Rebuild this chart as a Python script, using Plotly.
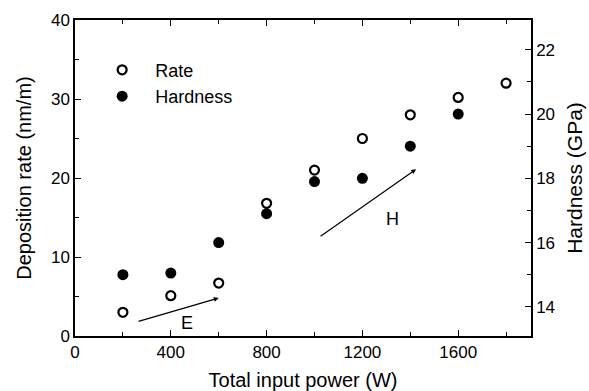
import plotly.graph_objects as go

# Total input power (W)
power = [200, 400, 600, 800, 1000, 1200, 1400, 1600, 1800]
# Deposition rate (nm/m)
rate = [3.0, 5.1, 6.7, 16.8, 21.0, 25.0, 28.0, 30.2, 32.0]
# Hardness (GPa)
hard_power = [200, 400, 600, 800, 1000, 1200, 1400, 1600]
hardness = [15.0, 15.05, 16.0, 16.9, 17.9, 18.0, 19.0, 20.0]

x_ticks = [0, 400, 800, 1200, 1600]
y_ticks = [0, 10, 20, 30, 40]
h_ticks = [14, 16, 18, 20, 22]

FONT = "Liberation Sans, Arial, Helvetica, sans-serif"

fig = go.Figure()
fig.add_trace(go.Scatter(
    x=power, y=rate, mode="markers", name="Rate",
    marker=dict(symbol="circle-open", size=9, color="black", line=dict(width=2.2, color="black")),
))
fig.add_trace(go.Scatter(
    x=hard_power, y=hardness, mode="markers", name="Hardness", yaxis="y2",
    marker=dict(symbol="circle", size=11, color="black"),
))

# trend arrows with labels
fig.add_annotation(x=600, y=4.8, ax=259, ay=1.8, xref="x", yref="y", axref="x", ayref="y",
                   showarrow=True, arrowhead=2, arrowsize=0.8, arrowwidth=1.2, arrowcolor="black", text="")
fig.add_annotation(x=468, y=1.6, xref="x", yref="y", text="E", showarrow=False,
                   font=dict(size=18, family=FONT, color="black"))
fig.add_annotation(x=1424, y=21.1, ax=1019, ay=12.5, xref="x", yref="y", axref="x", ayref="y",
                   showarrow=True, arrowhead=2, arrowsize=0.8, arrowwidth=1.2, arrowcolor="black", text="")
fig.add_annotation(x=1324, y=14.8, xref="x", yref="y", text="H", showarrow=False,
                   font=dict(size=18, family=FONT, color="black"))

axis_common = dict(showline=True, linecolor="black", linewidth=1.5, ticks="inside",
                   tickcolor="black", ticklen=6, tickwidth=1.2, showgrid=False, zeroline=False,
                   automargin=False,
                   tickfont=dict(size=17, family=FONT, color="black"))

fig.update_layout(
    width=589, height=391,
    margin=dict(l=75, r=58, t=20, b=55),
    paper_bgcolor="white", plot_bgcolor="white",
    font=dict(family=FONT, color="black"),
    xaxis=dict(range=[0, 1904], tickvals=x_ticks, mirror="ticks",
               minor=dict(dtick=200, tick0=0, ticks="inside", ticklen=4, tickcolor="black"),
               title=dict(text="Total input power (W)", font=dict(size=20, family=FONT), standoff=12),
               **axis_common),
    yaxis=dict(range=[0, 40], tickvals=y_ticks,
               minor=dict(dtick=5, tick0=0, ticks="inside", ticklen=4, tickcolor="black"),
               title=dict(text="Deposition rate (nm/m)", font=dict(size=20, family=FONT), standoff=14),
               **axis_common),
    yaxis2=dict(range=[13.09, 22.93], tickvals=h_ticks, overlaying="y", side="right",
                minor=dict(dtick=1, tick0=13, ticks="inside", ticklen=4, tickcolor="black"),
                title=dict(text="Hardness (GPa)", font=dict(size=21, family=FONT), standoff=13),
                **axis_common),
    legend=dict(x=0.031, y=0.9, xanchor="left", yanchor="top", bgcolor="rgba(0,0,0,0)",
                font=dict(size=18, family=FONT), itemwidth=56, tracegroupgap=0),
    showlegend=True,
)

fig.write_html("out.html")
